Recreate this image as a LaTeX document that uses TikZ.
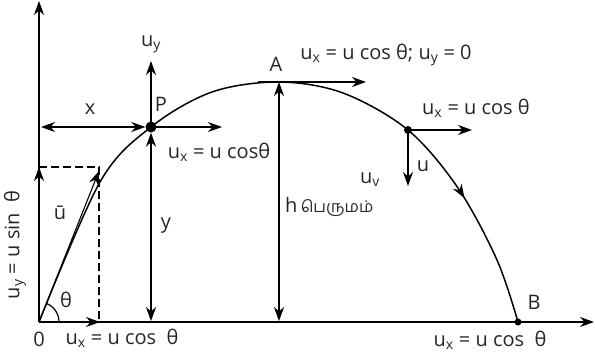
\documentclass[tikz,border=0pt]{standalone}
\usepackage{fontspec}
\setmainfont{Open Sans}
\newfontfamily\tamilfont[Script=Tamil]{Hind Madurai}
\usetikzlibrary{arrows.meta,positioning,calc,decorations.markings}
\newcommand{\ucomp}[1]{u\textsubscript{#1}}

\begin{document}
\begin{tikzpicture}[x=1pt,y=-1pt,
    vec/.style={line width=1.5pt,-{Stealth[length=14pt,width=10pt]}},
    dvec/.style={line width=1.5pt,{Stealth[length=14pt,width=10pt]}-{Stealth[length=14pt,width=10pt]}},
    dashline/.style={line width=1.3pt,dash pattern=on 8pt off 4pt},
    lbl/.style={font=\fontsize{20}{22}\selectfont,inner sep=1pt,text=black!85},
    dot/.style={circle,fill=black,inner sep=0pt,minimum size=11pt}
  ]
    \useasboundingbox (0,0) rectangle (595,356);

    \coordinate (o) at (39,322);
    \coordinate (xend) at (594,322);
    \coordinate (yend) at (39,1);
    \coordinate (uytip) at (39,167);
    \coordinate (uxtip) at (100,322);
    \coordinate (corner) at (99,167);
    \coordinate (cornerbase) at (99,322);
    \coordinate (utip) at (99,171);
    \node[dot] (p) at (151,127) {};
    \coordinate (a) at (279,82);
    \node[dot,minimum size=8pt] (q) at (408,130) {};
    \node[dot,minimum size=7pt] (b) at (518,322) {};

    \draw[line width=1.5pt,postaction={decorate},decoration={markings,mark=at position 0.815 with {\arrow{Stealth[length=14pt,width=10pt]}}}]
      plot[smooth,tension=0.55] coordinates {(39,322) (100,182) (151,127) (212,92) (279,82) (343,93) (408,130) (458,188) (497,260) (518,322)};

    \draw[vec] (o) -- (xend);
    \draw[vec] (o) -- (yend);
    \draw[vec] (o) -- (uytip);
    \draw[vec] (o) -- (uxtip);
    \draw[vec,line width=1.1pt] (o) -- (utip);
    \draw[dashline] (uytip) -- (corner) -- (cornerbase);
    \draw[line width=1.2pt] ($(o)+(20,0)$) arc[start angle=0,end angle=-68,radius=20];

    \coordinate (puy) at (151,61);
    \coordinate (pux) at (222,127);
    \coordinate (xl) at (41,127);
    \coordinate (pbase) at (151,321);
    \draw[vec] (p.center) -- (puy);
    \draw[vec] (p.center) -- (pux);
    \draw[dvec] (xl) -- (p.west);
    \draw[dvec] (p.south) -- (pbase);

    \coordinate (hbase) at (279,321);
    \coordinate (al) at (258,82);
    \coordinate (atop) at (366,82);
    \draw[dvec] (a) -- (hbase);
    \draw[vec] (al) -- (atop);

    \coordinate (qx) at (472,130);
    \coordinate (qy) at (408,186);
    \draw[vec] (q.center) -- (qx);
    \draw[vec] (q.center) -- (qy);

    \node[lbl] (luy) at (151,44) {\ucomp{y}};
    \node[lbl] (lp) at (161,104) {P};
    \node[lbl] (lpx) at (219,152) {\ucomp{x} = u cosθ};
    \node[lbl] (lx) at (90,109) {x};
    \node[lbl] (ly) at (166,226) {y};
    \node[lbl,anchor=west] (lh) at (284,207) {h\,{\tamilfont\fontsize{16}{18}\selectfont பெருமம்}};
    \node[lbl] (la) at (276,64) {A};
    \node[lbl] (ltop) at (386,55) {\ucomp{x} = u cos θ; \ucomp{y} = 0};
    \node[lbl] (lqx) at (476,108) {\ucomp{x} = u cos θ};
    \node[lbl] (lqu) at (423,166) {u};
    \node[lbl] (lqv) at (370,180) {\ucomp{v}};
    \node[lbl] (lb) at (534,302) {B};
    \node[lbl] (lbx) at (490,340) {\ucomp{x} = u cos\ \ θ};
    \node[lbl] (lo) at (39,339) {0};
    \node[lbl] (lox) at (122,338) {\ucomp{x} = u cos\ \ θ};
    \node[lbl,rotate=90] (loy) at (15,245) {\ucomp{y} = u sin\ \ θ};
    \node[lbl] (lth) at (66,300) {θ};
    \node[lbl] (lu) at (60,213) {\={u}};
  \end{tikzpicture}
\end{document}
